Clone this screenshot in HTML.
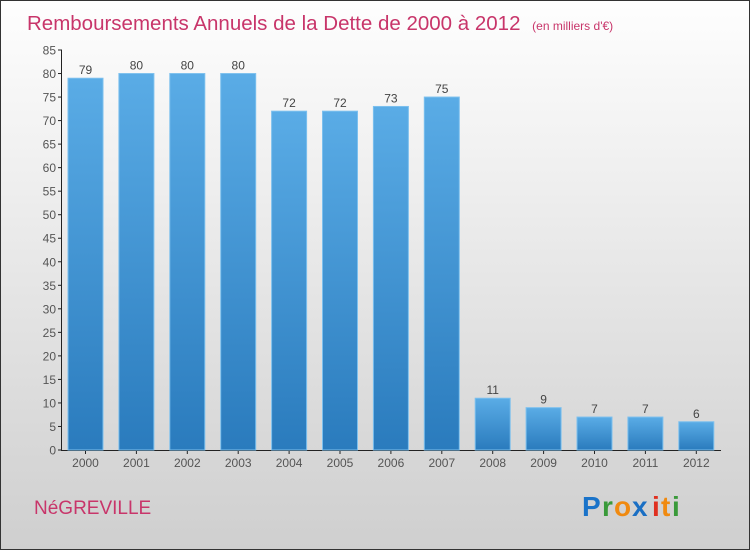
<!DOCTYPE html>
<html><head><meta charset="utf-8"><style>
body{margin:0;width:750px;height:550px;overflow:hidden;font-family:"Liberation Sans",sans-serif}
#wrap{position:absolute;left:0;top:0;width:748px;height:548px;border:1px solid #333;background:linear-gradient(#fefefe,#f0f0f0 30%,#d8d8d8 80%,#cfcfcf)}
</style></head><body>
<div id="wrap">
<svg width="750" height="550" style="position:absolute;left:-1px;top:-1px">
<defs><linearGradient id="bg" x1="0" y1="0" x2="0" y2="1"><stop offset="0" stop-color="#5aace6"/><stop offset="1" stop-color="#2a7bbd"/></linearGradient></defs>
<text x="27" y="30" font-size="20.5" fill="#c8356a">Remboursements Annuels de la Dette de 2000 à 2012 <tspan font-size="12" dx="6">(en milliers d'€)</tspan></text>
<g id="axes"></g><g id="bars"></g>
<text x="34" y="514" font-size="19" fill="#c8356a">NéGREVILLE</text>
<g font-size="28" font-weight="bold" font-family="Liberation Sans,sans-serif">
<text x="582" y="516" fill="#1a73c9">P</text><text x="602" y="516" fill="#3a9a3a">r</text><text x="614" y="516" fill="#f08a10">o</text><text x="632" y="516" fill="#1a6fc4">x</text><text x="652" y="516" fill="#e03020">i</text><text x="661" y="516" fill="#f08a10">t</text><text x="672" y="516" fill="#3a9a3a">i</text></g>
</svg></div>
<script>
const years=["2000","2001","2002","2003","2004","2005","2006","2007","2008","2009","2010","2011","2012"];
const values=[79,80,80,80,72,72,73,75,11,9,7,7,6];
const ticks=[0,5,10,15,20,25,30,35,40,45,50,55,60,65,70,75,80,85];
const NS="http://www.w3.org/2000/svg";
const y=v=>450-v*400/85, x=i=>85.5+i*50.9;
function mk(t,a,p,txt){const e=document.createElementNS(NS,t);for(const k in a)e.setAttribute(k,a[k]);if(txt!==undefined)e.textContent=txt;p.appendChild(e);return e;}
const ax=document.getElementById('axes'),bg=document.getElementById('bars');
let l=mk('line',{x1:61.5,x2:61.5,y1:50,y2:450,stroke:'#222'},ax);


l=mk('line',{x1:61,x2:721,y1:450.5,y2:450.5,stroke:'#222'},ax);


ticks.forEach(t=>{mk('line',{x1:58,x2:62,y1:y(t),y2:y(t),stroke:'#222'},ax);
const e=mk('text',{x:56,y:y(t)+4.5,'text-anchor':'end','font-size':12,fill:'#555'},ax,t);

});
years.forEach((yr,i)=>{
const r=mk('rect',{x:x(i)-17.5,y:y(values[i]),width:35,height:450-y(values[i]),fill:'url(#bg)',stroke:'#7cc0ee','stroke-width':1},bg);


const v=mk('text',{x:x(i),y:y(values[i])-4,'text-anchor':'middle','font-size':12,fill:'#444'},bg,values[i]);


mk('line',{x1:x(i),x2:x(i),y1:450,y2:454,stroke:'#222'},ax);
const t=mk('text',{x:x(i),y:467,'text-anchor':'middle','font-size':12,fill:'#555'},ax,yr);

});
</script>
</body></html>
